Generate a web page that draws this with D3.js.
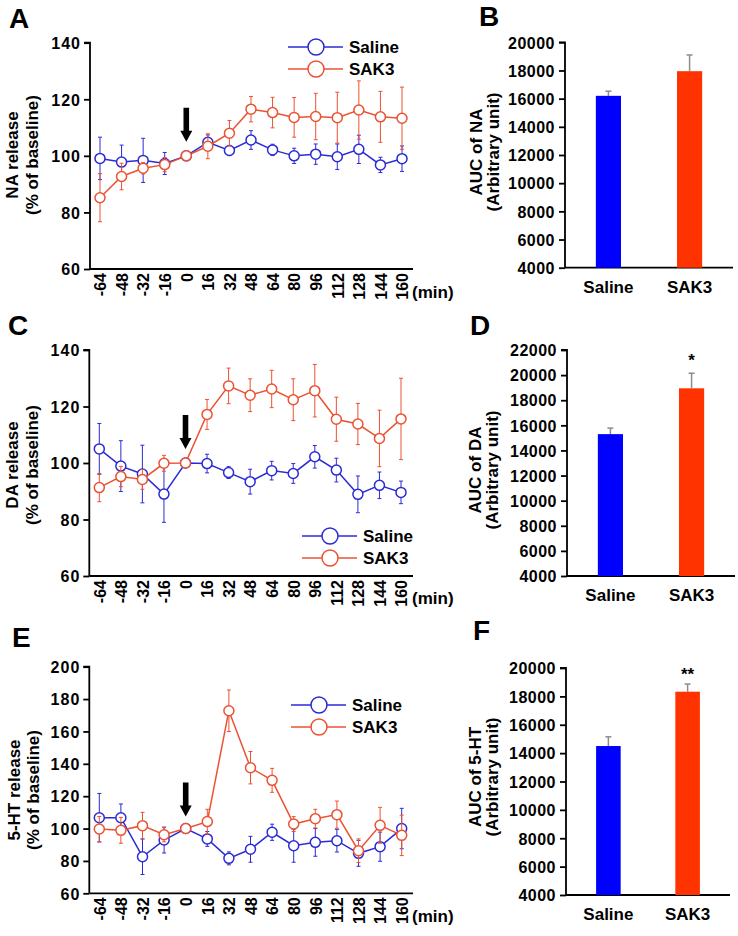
<!DOCTYPE html>
<html><head><meta charset="utf-8">
<script src="https://cdn.jsdelivr.net/npm/d3@7/dist/d3.min.js"></script>
<style>
body{margin:0;background:#fff;}
svg text{font-family:"Liberation Sans",Arial,sans-serif;font-weight:bold;fill:#000;}
</style></head><body>
<svg id="c" width="738" height="936"></svg>
<script>
// ---------- data ----------
const timePoints = ["-64","-48","-32","-16","0","16","32","48","64","80","96","112","128","144","160"];
const seriesNames = ["Saline","SAK3"];

const naSaline    = [99.1, 97.8, 98.4, 97.3, 100, 104.8, 101.9, 105.6, 102.1, 100.0, 100.6, 99.7, 102.3, 96.8, 99.0];
const naSalineErr = [7.5, 6.0, 7.8, 3.9, 0, 2.6, 1.8, 3.3, 2.0, 2.7, 3.6, 4.5, 5.0, 2.7, 4.5];
const naSak3      = [85.2, 92.7, 95.6, 96.9, 100, 103.4, 108.0, 116.5, 115.3, 113.6, 113.9, 113.5, 116.2, 113.8, 113.3];
const naSak3Err   = [8.5, 4.7, 2.0, 2.5, 0, 4.4, 4.5, 4.5, 5.4, 7.0, 8.2, 9.0, 10.3, 9.0, 11.0];

const daSaline    = [105.0, 98.9, 96.1, 89.0, 100, 99.8, 96.6, 93.4, 97.3, 96.3, 102.2, 97.5, 88.9, 92.1, 89.6];
const daSalineErr = [9.0, 9.0, 10.2, 10.0, 0, 3.3, 2.1, 4.4, 3.3, 3.5, 4.0, 4.2, 6.5, 4.7, 4.0];
const daSak3      = [91.3, 95.2, 94.2, 99.9, 100, 117.2, 127.3, 124.0, 126.2, 122.4, 125.6, 115.5, 113.8, 108.7, 115.6];
const daSak3Err   = [5.0, 3.6, 3.5, 2.8, 0, 5.3, 6.3, 5.8, 6.6, 7.4, 9.3, 7.8, 7.3, 10.0, 14.4];

const htSaline    = [106.7, 106.7, 82.6, 92.9, 100, 93.6, 81.6, 87.2, 97.7, 89.4, 91.5, 92.5, 84.7, 88.8, 100.0];
const htSalineErr = [15.0, 8.5, 11.0, 8.0, 0, 4.6, 4.0, 8.0, 5.0, 10.2, 8.6, 7.0, 8.0, 9.0, 12.5];
const htSak3      = [99.7, 98.9, 101.8, 96.2, 100, 104.3, 172.8, 137.6, 129.8, 102.8, 106.1, 108.6, 86.3, 102.0, 95.8];
const htSak3Err   = [7.8, 8.0, 8.2, 4.4, 0, 7.6, 12.8, 10.0, 7.4, 4.6, 5.8, 8.4, 7.3, 11.1, 12.5];

const barGroups = ["Saline","SAK3"];
const aucNA    = [16200, 17950];
const aucNAErr = [330, 1150];
const aucDA    = [15300, 18950];
const aucDAErr = [480, 1200];
const aucHT    = [14500, 18330];
const aucHTErr = [650, 540];
const sigDA = ["", "*"];
const sigHT = ["", "**"];

const lineTicks  = [60, 80, 100, 120, 140];
const lineTicksHT = [60, 80, 100, 120, 140, 160, 180, 200];
const barTicksNA = [4000, 6000, 8000, 10000, 12000, 14000, 16000, 18000, 20000];
const barTicksDA = [4000, 6000, 8000, 10000, 12000, 14000, 16000, 18000, 20000, 22000];
const barTicksHT = [4000, 6000, 8000, 10000, 12000, 14000, 16000, 18000, 20000];

// ---------- styles ----------
const colSaline = "#2b2bd6", colSak3 = "#eb5232";
const barBlue = "#0000ff", barRed = "#ff3300";
const svg = d3.select("#c");

function letter(t, x, y){
  svg.append("text").attr("x", x).attr("y", y).attr("font-size", 28).text(t);
}

function yTitle(lines, xs, cy, size){
  lines.forEach((l, i) => {
    svg.append("text").attr("transform", `translate(${xs[i]},${cy}) rotate(-90)`)
      .attr("text-anchor", "middle").attr("font-size", size).text(l);
  });
}

function linePanel(cfg){
  const x = d3.scalePoint().domain(timePoints).range([cfg.px0, cfg.px1]);
  const y = d3.scaleLinear().domain([cfg.ticks[0], cfg.ticks[cfg.ticks.length-1]]).range([cfg.yBot, cfg.yTop]);
  const g = svg.append("g");
  // y axis
  const ya = g.append("g").attr("transform", `translate(${cfg.ax},0)`)
    .call(d3.axisLeft(y).tickValues(cfg.ticks).tickSize(6).tickPadding(3).tickFormat(d3.format("d")));
  ya.select(".domain").attr("stroke-width", 1.8).attr("d", `M-6,${cfg.yTop}H0V${cfg.yBot}`);
  ya.selectAll(".tick line").attr("stroke-width", 1.8);
  ya.selectAll("text").attr("font-size", 16).attr("letter-spacing", "1px").attr("dy", "0.36em");
  // x axis
  const xa = g.append("g").attr("transform", `translate(0,${cfg.yBot})`)
    .call(d3.axisBottom(x).tickSize(0).tickPadding(0));
  xa.select(".domain").attr("stroke-width", 1.8).attr("d", `M${cfg.ax},0H${cfg.axEnd}`);
  xa.selectAll(".tick text").attr("font-size", 16).attr("text-anchor", "end")
    .attr("transform", "rotate(-90)").attr("x", -4).attr("y", 0).attr("dy", "0.36em");
  g.append("text").attr("x", cfg.axEnd - 1).attr("y", cfg.minY).attr("font-size", 17).text("(min)");

  // arrow at time 0
  const ax0 = x("0"), tip = y(100) - cfg.arrowGap, top = tip - 34;
  g.append("path").attr("fill", "#000")
    .attr("d", `M${ax0-2.8},${top}H${ax0+2.8}V${tip-11}H${ax0+6}L${ax0},${tip}L${ax0-6},${tip-11}H${ax0-2.8}Z`);

  const series = [
    {name: seriesNames[0], v: cfg.s1, e: cfg.e1, c: colSaline},
    {name: seriesNames[1], v: cfg.s2, e: cfg.e2, c: colSak3}
  ];
  series.forEach(s => {
    const sg = g.append("g");
    timePoints.forEach((t, i) => {
      if (s.e[i] <= 0) return;
      const cx = x(t);
      sg.append("line").attr("x1", cx).attr("x2", cx).attr("y1", y(s.v[i]-s.e[i])).attr("y2", y(s.v[i]+s.e[i]))
        .attr("stroke", s.c).attr("stroke-width", 1);
      [s.v[i]-s.e[i], s.v[i]+s.e[i]].forEach(vv => {
        sg.append("line").attr("x1", cx-2).attr("x2", cx+2).attr("y1", y(vv)).attr("y2", y(vv))
          .attr("stroke", s.c).attr("stroke-width", 1);
      });
    });
    sg.append("path").datum(s.v).attr("fill", "none").attr("stroke", s.c).attr("stroke-width", 1.5)
      .attr("d", d3.line().x((d, i) => x(timePoints[i])).y(d => y(d)));
    sg.selectAll("circle").data(s.v).join("circle")
      .attr("cx", (d, i) => x(timePoints[i])).attr("cy", d => y(d)).attr("r", 5)
      .attr("fill", "#fff").attr("stroke", s.c).attr("stroke-width", 1.5);
  });
  // legend
  series.forEach((s, i) => {
    const ly = cfg.legY + i * 22;
    g.append("line").attr("x1", cfg.legX).attr("x2", cfg.legX + 55).attr("y1", ly).attr("y2", ly)
      .attr("stroke", s.c).attr("stroke-width", 1.5);
    g.append("circle").attr("cx", cfg.legX + 28).attr("cy", ly).attr("r", 8)
      .attr("fill", "#fff").attr("stroke", s.c).attr("stroke-width", 1.5);
    g.append("text").attr("x", cfg.legX + 61).attr("y", ly).attr("dy", "0.36em").attr("font-size", 17).text(s.name);
  });
}

function barPanel(cfg){
  const y = d3.scaleLinear().domain([cfg.ticks[0], cfg.ticks[cfg.ticks.length-1]]).range([cfg.yBot, cfg.yTop]);
  const x = d3.scaleBand().domain(barGroups).range([cfg.ax, cfg.axEnd]).paddingInner(0.69).paddingOuter(0.38);
  const g = svg.append("g");
  const ya = g.append("g").attr("transform", `translate(${cfg.ax},0)`)
    .call(d3.axisLeft(y).tickValues(cfg.ticks).tickSize(6).tickPadding(4).tickFormat(d3.format("d")));
  ya.select(".domain").attr("stroke-width", 1.8).attr("d", `M-6,${cfg.yTop}H0V${cfg.yBot}`);
  ya.selectAll(".tick line").attr("stroke-width", 1.8);
  ya.selectAll("text").attr("font-size", 16).attr("letter-spacing", "0.5px").attr("dy", "0.36em");
  const xa = g.append("g").attr("transform", `translate(0,${cfg.yBot})`)
    .call(d3.axisBottom(x).tickSize(0).tickPadding(13));
  xa.select(".domain").attr("stroke-width", 1.8).attr("d", `M${cfg.ax},0H${cfg.axEnd}`);
  xa.selectAll(".tick text").attr("font-size", 17);
  const cols = [barBlue, barRed];
  barGroups.forEach((b, i) => {
    const cx = x(b) + x.bandwidth()/2;
    const top = y(cfg.v[i] + cfg.e[i]);
    g.append("line").attr("x1", cx).attr("x2", cx).attr("y1", y(cfg.v[i])).attr("y2", top)
      .attr("stroke", "#8c8c8c").attr("stroke-width", 1.5);
    g.append("line").attr("x1", cx-3).attr("x2", cx+3).attr("y1", top).attr("y2", top)
      .attr("stroke", "#8c8c8c").attr("stroke-width", 1.5);
    g.append("rect").attr("x", x(b)).attr("width", x.bandwidth()).attr("y", y(cfg.v[i]))
      .attr("height", cfg.yBot - y(cfg.v[i])).attr("fill", cols[i]);
    if (cfg.sig && cfg.sig[i]) {
      g.append("text").attr("x", cx).attr("y", cfg.sigY).attr("text-anchor", "middle").attr("font-size", 17).text(cfg.sig[i]);
    }
  });
}

// ---------- panels ----------
letter("A", 9, 28);
yTitle(["NA release", "(% of baseline)"], [18, 38], 155, 17);
linePanel({ticks: lineTicks, yTop: 42.7, yBot: 269, ax: 90, axEnd: 413, px0: 100, px1: 402,
  s1: naSaline, e1: naSalineErr, s2: naSak3, e2: naSak3Err, legX: 288, legY: 47, arrowGap: 14, minY: 298});

letter("C", 8, 335);
yTitle(["DA release", "(% of baseline)"], [18, 38], 465, 17);
linePanel({ticks: lineTicks, yTop: 350, yBot: 576, ax: 89.3, axEnd: 413, px0: 99.3, px1: 401,
  s1: daSaline, e1: daSalineErr, s2: daSak3, e2: daSak3Err, legX: 302, legY: 536, arrowGap: 14, minY: 604});

letter("E", 12, 647);
yTitle(["5-HT release", "(% of baseline)"], [20, 39], 790, 17);
linePanel({ticks: lineTicksHT, yTop: 666.7, yBot: 893.3, ax: 89.3, axEnd: 413, px0: 99.3, px1: 401.7,
  s1: htSaline, e1: htSalineErr, s2: htSak3, e2: htSak3Err, legX: 291, legY: 705, arrowGap: 12, minY: 922});

letter("B", 479, 26);
yTitle(["AUC of NA", "(Arbitrary unit)"], [482, 499], 152, 17);
barPanel({ticks: barTicksNA, yTop: 42.3, yBot: 267.7, ax: 565, axEnd: 733, v: aucNA, e: aucNAErr});

letter("D", 470, 335);
yTitle(["AUC of DA", "(Arbitrary unit)"], [481, 498], 470, 17);
barPanel({ticks: barTicksDA, yTop: 350, yBot: 576, ax: 567, axEnd: 735, v: aucDA, e: aucDAErr, sig: sigDA, sigY: 366});

letter("F", 473, 640);
yTitle(["AUC of 5-HT", "(Arbitrary unit)"], [481, 498], 777, 17);
barPanel({ticks: barTicksHT, yTop: 668, yBot: 895, ax: 566, axEnd: 730, v: aucHT, e: aucHTErr, sig: sigHT, sigY: 680});
</script>
</body></html>
